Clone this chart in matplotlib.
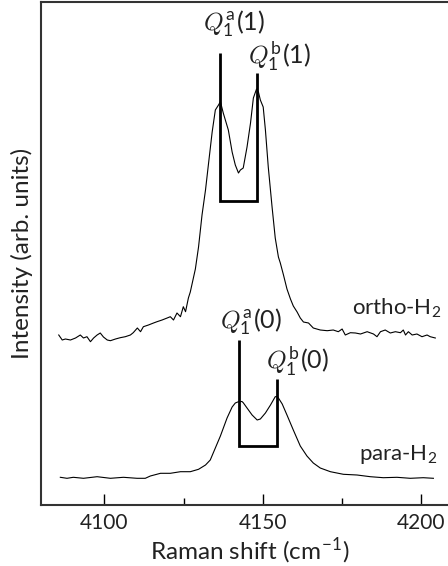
import numpy as np
import matplotlib
matplotlib.use("Agg")
import matplotlib.pyplot as plt

plt.rcParams['font.family'] = ['Lato', 'DejaVu Sans']
plt.rcParams['mathtext.fontset'] = 'custom'
plt.rcParams['mathtext.rm'] = 'Lato'
plt.rcParams['mathtext.sf'] = 'Lato'
plt.rcParams['mathtext.it'] = 'cmmi10'

# ortho-H2 spectrum (Raman shift in cm-1, intensity in arb. units)
ortho_shift = [4085.6, 4086.7, 4087.7, 4089.3, 4090.9, 4092.4, 4093.4, 4094.5, 4095.6, 4096.6,
               4097.7, 4098.7, 4099.7, 4100.9, 4101.9, 4103.5, 4105.0, 4106.6, 4108.2, 4109.1,
               4110.4, 4111.4, 4112.3, 4113.9, 4115.5, 4116.6, 4118.2, 4119.8, 4120.8, 4121.8,
               4122.9, 4124.0, 4124.9, 4125.6, 4126.5, 4127.1, 4128.7, 4129.7, 4130.8, 4131.9,
               4132.8, 4134.0, 4135.0, 4136.0, 4136.6, 4137.5, 4139.1, 4140.3, 4141.3, 4142.3,
               4142.9, 4143.8, 4145.0, 4146.1, 4147.0, 4148.0, 4148.6, 4149.2, 4150.1, 4150.8,
               4151.7, 4152.9, 4153.9, 4154.9, 4155.5, 4156.5, 4157.6, 4158.7, 4159.6, 4160.8,
               4161.8, 4162.8, 4164.4, 4165.9, 4168.1, 4170.3, 4172.2, 4173.8, 4175.0, 4176.0,
               4177.6, 4179.2, 4180.8, 4182.9, 4184.9, 4186.0, 4187.1, 4188.6, 4190.2, 4191.8,
               4193.4, 4194.3, 4195.0, 4195.9, 4197.1, 4198.6, 4200.2, 4201.8, 4202.8, 4204.4]
ortho_int = [170, 165, 166, 165, 167, 170, 167, 168.3, 163.3, 167,
             170, 172, 168, 165, 164.3, 166, 167.3, 168.3, 170, 172.3,
             177, 173.3, 178.3, 180, 182, 183.3, 185, 187, 188.3, 185,
             192, 188.3, 198.3, 193.3, 207, 213, 236, 258, 290, 315,
             340, 373, 395, 400, 403.3, 392, 375, 353, 340, 332,
             335, 337, 358, 382, 407, 416, 413, 405, 398, 375,
             338, 298, 267, 248, 242, 230, 216, 206, 199, 193,
             187, 183, 182, 177, 175, 174.3, 175, 173.3, 176, 170,
             172.3, 172, 171, 173.3, 171, 168.3, 173.3, 175, 172, 173.3,
             172.3, 175, 170, 173.3, 170, 171, 168.3, 170, 168.3, 167]

# para-H2 spectrum
para_shift = [4086.1, 4088.2, 4090.2, 4093.4, 4097.7, 4101.9, 4106.0, 4110.3, 4112.9, 4114.5,
              4117.7, 4120.8, 4124.0, 4127.1, 4129.7, 4131.9, 4133.4, 4135.0, 4136.6, 4138.7,
              4140.3, 4141.3, 4142.3, 4143.4, 4143.8, 4145.0, 4146.6, 4148.2, 4149.2, 4150.8,
              4152.4, 4153.9, 4154.5, 4154.9, 4156.1, 4157.6, 4159.6, 4161.8, 4163.9, 4165.9,
              4168.1, 4171.3, 4175.4, 4179.7, 4183.9, 4188.0, 4192.3, 4196.5, 4200.6, 4203.8]
para_int = [27.7, 26.7, 27.7, 26.7, 28.3, 26.7, 27.7, 26.7, 26.7, 29,
            31.7, 31.7, 33.3, 33.3, 35.7, 40, 45, 57, 69, 87,
            98, 102, 103.3, 103.5, 102.3, 97, 90, 85, 86, 92,
            100, 108.3, 108.5, 107, 101, 90, 75, 59, 49, 42,
            37, 33.3, 30.7, 30, 28.3, 27.3, 27.7, 26.7, 27.3, 26.7]

# line positions Q1a / Q1b and bracket heights
ortho_lines = [4136.6, 4148.2]
ortho_tops = [451.7, 431.7]
ortho_base = 304.3
para_lines = [4142.6, 4154.3]
para_tops = [165, 125.7]
para_base = 59.3

fig = plt.figure(figsize=(4.48, 5.66), dpi=100)
ax = fig.add_axes([41 / 448, 61 / 566, 418.4 / 448, 503 / 566])

ax.plot(ortho_shift, ortho_int, color='black', lw=0.8)
ax.plot(para_shift, para_int, color='black', lw=0.8)

for xs, tops, base in [(ortho_lines, ortho_tops, ortho_base), (para_lines, para_tops, para_base)]:
    ax.plot([xs[0], xs[0], xs[1], xs[1]], [tops[0], base, base, tops[1]],
            color='black', lw=2, solid_joinstyle='miter', solid_capstyle='butt')

qkw = dict(fontsize=18, ha='center', va='center', color='#222222')
ax.text(4141.0, 481, r'$Q_1^{\mathsf{a}}(1)$', **qkw)
ax.text(4155.2, 449, r'$Q_1^{\mathsf{b}}(1)$', **qkw)
ax.text(4146.1, 183, r'$Q_1^{\mathsf{a}}(0)$', **qkw)
ax.text(4160.9, 144, r'$Q_1^{\mathsf{b}}(0)$', **qkw)

ax.text(4192.4, 197, 'ortho-H$_2$', fontsize=16, ha='center', va='center', color='#222222')
ax.text(4192.7, 50, 'para-H$_2$', fontsize=16, ha='center', va='center', color='#222222')

ax.set_xlim(4080, 4212)
ax.set_ylim(0, 503)
ax.set_xticks([4100, 4150, 4200])
ax.set_xticks([4125, 4175], minor=True)
ax.set_yticks([])
ax.tick_params(axis='x', which='major', direction='in', length=8, width=1, labelsize=15, pad=6,
               labelcolor='#222222')
ax.tick_params(axis='x', which='minor', direction='in', length=5, width=1)
for s in ax.spines.values():
    s.set_linewidth(1.5)
    s.set_color('#333333')

ax.set_xlabel('Raman shift (cm$^{-1}$)', fontsize=17.5, labelpad=2, color='#222222')
ax.set_ylabel('Intensity (arb. units)', fontsize=17.5, labelpad=6, color='#222222')

fig.savefig('out.png', dpi=100)
